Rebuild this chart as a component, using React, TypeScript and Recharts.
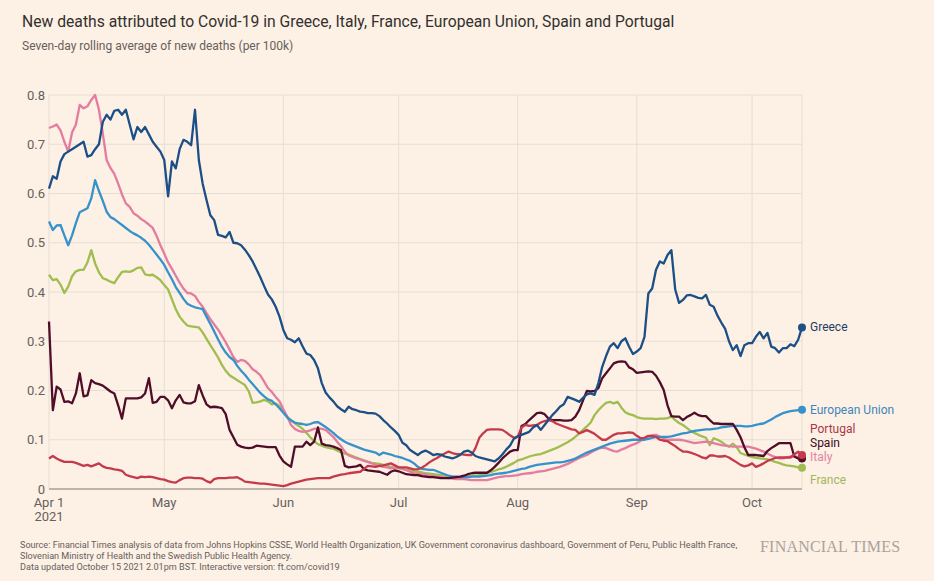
import { LineChart, Line, XAxis, YAxis, CartesianGrid } from "recharts";

// Seven-day rolling average of new deaths per 100k, one value per day from 1 Apr 2021 to 14 Oct 2021
const greece = [
  // Apr
  0.61, 0.635, 0.63, 0.665, 0.68, 0.685, 0.69, 0.695, 0.7, 0.705,
  0.675, 0.678, 0.69, 0.7, 0.745, 0.76, 0.75, 0.768, 0.77, 0.76,
  0.77, 0.74, 0.71, 0.735, 0.725, 0.735, 0.72, 0.705, 0.695, 0.685,
  // May
  0.668, 0.594, 0.665, 0.651, 0.69, 0.709, 0.705, 0.698, 0.77, 0.668,
  0.62, 0.587, 0.556, 0.546, 0.516, 0.514, 0.511, 0.522, 0.5, 0.499,
  0.495, 0.486, 0.475, 0.462, 0.446, 0.43, 0.412, 0.395, 0.385, 0.37,
  0.35,
  // Jun
  0.323, 0.306, 0.303, 0.298, 0.306, 0.29, 0.275, 0.272, 0.262, 0.245,
  0.215, 0.196, 0.186, 0.178, 0.168, 0.162, 0.157, 0.167, 0.162, 0.16,
  0.157, 0.156, 0.154, 0.154, 0.153, 0.148, 0.14, 0.133, 0.125, 0.118,
  // Jul
  0.11, 0.094, 0.089, 0.079, 0.074, 0.069, 0.075, 0.078, 0.074, 0.069,
  0.071, 0.07, 0.066, 0.064, 0.062, 0.065, 0.069, 0.076, 0.078, 0.074,
  0.067, 0.064, 0.062, 0.06, 0.058, 0.056, 0.062, 0.07, 0.08, 0.088,
  0.102,
  // Aug
  0.107, 0.11, 0.113, 0.116, 0.125, 0.13, 0.12, 0.13, 0.14, 0.15,
  0.158, 0.167, 0.172, 0.187, 0.184, 0.181, 0.177, 0.185, 0.192, 0.194,
  0.191, 0.215, 0.248, 0.27, 0.289, 0.296, 0.286, 0.3, 0.306, 0.289,
  0.274,
  // Sep
  0.279, 0.286, 0.309, 0.397, 0.407, 0.445, 0.462, 0.458, 0.475, 0.485,
  0.405, 0.378, 0.384, 0.393, 0.394, 0.391, 0.388, 0.387, 0.394, 0.374,
  0.37, 0.352, 0.338, 0.325, 0.3, 0.282, 0.292, 0.27, 0.292, 0.296,
  // Oct
  0.296, 0.309, 0.319, 0.306, 0.317, 0.289, 0.286, 0.277, 0.286, 0.286,
  0.294, 0.29, 0.303, 0.328,
];

const italy = [
  0.733, 0.736, 0.74, 0.728, 0.705, 0.685, 0.724, 0.74, 0.78, 0.773,
  0.777, 0.79, 0.8, 0.77, 0.722, 0.668, 0.652, 0.64, 0.62, 0.598,
  0.58, 0.573, 0.56, 0.555, 0.548, 0.543, 0.537, 0.53, 0.514, 0.495,

  0.478, 0.46, 0.447, 0.433, 0.419, 0.407, 0.398, 0.397, 0.392, 0.38,
  0.37, 0.357, 0.345, 0.334, 0.324, 0.311, 0.298, 0.283, 0.268, 0.258,
  0.262, 0.26, 0.253, 0.243, 0.238, 0.231, 0.218, 0.205, 0.197, 0.187,
  0.178,

  0.162, 0.147, 0.13, 0.122, 0.118, 0.116, 0.117, 0.119, 0.122, 0.123,
  0.122, 0.12, 0.113, 0.106, 0.096, 0.087, 0.076, 0.068, 0.065, 0.062,
  0.06, 0.057, 0.055, 0.052, 0.049, 0.047, 0.045, 0.044, 0.042, 0.043,

  0.044, 0.041, 0.038, 0.035, 0.032, 0.03, 0.03, 0.029, 0.027, 0.026,
  0.025, 0.024, 0.023, 0.022, 0.021, 0.02, 0.02, 0.02, 0.019, 0.018,
  0.018, 0.018, 0.018, 0.018, 0.02, 0.022, 0.024, 0.025, 0.026, 0.026,
  0.027,

  0.028, 0.03, 0.031, 0.032, 0.033, 0.035, 0.036, 0.037, 0.039, 0.041,
  0.043, 0.045, 0.048, 0.051, 0.055, 0.059, 0.063, 0.066, 0.069, 0.074,
  0.078, 0.082, 0.084, 0.083, 0.08, 0.077, 0.076, 0.08, 0.083, 0.087,
  0.09,

  0.093, 0.098, 0.102, 0.106, 0.109, 0.11, 0.106, 0.102, 0.1, 0.1,
  0.1, 0.1, 0.099, 0.097, 0.095, 0.093, 0.094, 0.095, 0.096, 0.095,
  0.093, 0.091, 0.089, 0.088, 0.087, 0.086, 0.086, 0.086, 0.086, 0.086,

  0.084, 0.082, 0.079, 0.076, 0.072, 0.068, 0.065, 0.062, 0.062, 0.064,
  0.066, 0.066, 0.065, 0.065,
];

const europeanUnion = [
  0.543, 0.526, 0.535, 0.536, 0.515, 0.495, 0.515, 0.54, 0.562, 0.566,
  0.57, 0.59, 0.627, 0.605, 0.585, 0.563, 0.552, 0.548, 0.542, 0.536,
  0.53, 0.524, 0.519, 0.515, 0.51, 0.504, 0.496, 0.486, 0.476, 0.466,

  0.455, 0.44, 0.426, 0.41, 0.398, 0.386, 0.376, 0.372, 0.369, 0.367,
  0.365, 0.35, 0.335, 0.32, 0.304, 0.289, 0.277, 0.268, 0.262, 0.25,
  0.24, 0.232, 0.222, 0.213, 0.204, 0.195, 0.188, 0.182, 0.179, 0.172,
  0.164,

  0.155, 0.146, 0.139, 0.135, 0.133, 0.132, 0.13, 0.132, 0.135, 0.136,
  0.131, 0.126, 0.12, 0.114, 0.107, 0.101, 0.096, 0.092, 0.089, 0.086,
  0.083, 0.08, 0.078, 0.076, 0.074, 0.069, 0.074, 0.072, 0.07, 0.067,

  0.065, 0.063, 0.06, 0.057, 0.052, 0.045, 0.041, 0.04, 0.039, 0.039,
  0.036, 0.033, 0.03, 0.027, 0.025, 0.025, 0.024, 0.024, 0.024, 0.025,
  0.025, 0.025, 0.026, 0.027, 0.028, 0.03, 0.031, 0.032, 0.033, 0.035,
  0.037,

  0.039, 0.041, 0.042, 0.045, 0.047, 0.049, 0.05, 0.051, 0.052, 0.053,
  0.054, 0.054, 0.055, 0.057, 0.059, 0.062, 0.066, 0.07, 0.074, 0.077,
  0.08, 0.083, 0.086, 0.089, 0.092, 0.094, 0.096, 0.097, 0.098, 0.099,
  0.1,

  0.1, 0.1, 0.1, 0.102, 0.104, 0.106, 0.106, 0.106, 0.106, 0.107,
  0.109, 0.111, 0.113, 0.114, 0.116, 0.118, 0.119, 0.12, 0.121, 0.121,
  0.122, 0.123, 0.125, 0.126, 0.127, 0.128, 0.128, 0.128, 0.127, 0.127,

  0.128, 0.13, 0.132, 0.133, 0.137, 0.141, 0.146, 0.15, 0.154, 0.156,
  0.158, 0.159, 0.16, 0.161,
];

const france = [
  0.435, 0.424, 0.426, 0.415, 0.398, 0.411, 0.432, 0.442, 0.445, 0.445,
  0.46, 0.485, 0.458, 0.44, 0.428, 0.425, 0.421, 0.418, 0.43, 0.441,
  0.442, 0.441, 0.444, 0.449, 0.45, 0.436, 0.434, 0.435, 0.43, 0.424,

  0.414, 0.405, 0.385, 0.365, 0.35, 0.34, 0.332, 0.33, 0.329, 0.328,
  0.318, 0.305, 0.292, 0.28, 0.267, 0.252, 0.24, 0.231, 0.226, 0.221,
  0.216, 0.211, 0.198, 0.175, 0.176, 0.178, 0.181, 0.178, 0.172, 0.174,
  0.168,

  0.158, 0.145, 0.14, 0.133, 0.128, 0.122, 0.114, 0.105, 0.097, 0.091,
  0.088, 0.085, 0.083, 0.082, 0.078, 0.075, 0.072, 0.07, 0.067, 0.064,
  0.061, 0.058, 0.055, 0.053, 0.052, 0.051, 0.049, 0.047, 0.045, 0.043,

  0.042, 0.041, 0.039, 0.038, 0.036, 0.035, 0.034, 0.032, 0.031, 0.03,
  0.029, 0.028, 0.027, 0.026, 0.025, 0.024, 0.024, 0.025, 0.026, 0.026,
  0.027, 0.028, 0.03, 0.032, 0.034, 0.037, 0.04, 0.042, 0.045, 0.049,
  0.053,

  0.058, 0.06, 0.063, 0.066, 0.068, 0.07, 0.071, 0.074, 0.077, 0.08,
  0.083, 0.087, 0.091, 0.095, 0.1, 0.106, 0.113, 0.12, 0.127, 0.135,
  0.15, 0.16, 0.168, 0.175, 0.177, 0.174, 0.177, 0.165, 0.156, 0.152,
  0.15,

  0.146, 0.144, 0.143, 0.143, 0.143, 0.142, 0.143, 0.143, 0.144, 0.147,
  0.14, 0.134, 0.13, 0.124, 0.118, 0.114, 0.11, 0.107, 0.104, 0.089,
  0.103, 0.1, 0.096, 0.09, 0.086, 0.092, 0.085, 0.073, 0.07, 0.067,

  0.065, 0.063, 0.062, 0.061, 0.06, 0.058, 0.055, 0.053, 0.05, 0.048,
  0.047, 0.046, 0.044, 0.043,
];

const spain = [
  0.34, 0.16, 0.208, 0.202, 0.177, 0.178, 0.174, 0.194, 0.235, 0.188,
  0.19, 0.221, 0.215, 0.213, 0.21, 0.204, 0.198, 0.194, 0.17, 0.143,
  0.184, 0.184, 0.184, 0.184, 0.186, 0.194, 0.225, 0.175, 0.177, 0.187,

  0.187, 0.18, 0.164, 0.18, 0.191, 0.176, 0.174, 0.174, 0.178, 0.211,
  0.19, 0.172, 0.166, 0.167, 0.166, 0.164, 0.152, 0.12, 0.105, 0.09,
  0.086, 0.084, 0.083, 0.084, 0.088, 0.087, 0.086, 0.085, 0.085, 0.085,
  0.068,

  0.056, 0.05, 0.045, 0.086, 0.086, 0.086, 0.096, 0.089, 0.096, 0.125,
  0.092, 0.089, 0.088, 0.086, 0.083, 0.079, 0.047, 0.044, 0.045, 0.046,
  0.049, 0.04, 0.038, 0.037, 0.036, 0.035, 0.032, 0.029, 0.035, 0.038,

  0.036, 0.033, 0.03, 0.029, 0.028, 0.028, 0.026, 0.025, 0.024, 0.024,
  0.023, 0.022, 0.022, 0.022, 0.023, 0.024, 0.025, 0.027, 0.03, 0.032,
  0.033, 0.033, 0.033, 0.033, 0.038, 0.045, 0.053, 0.062, 0.069, 0.076,
  0.079,

  0.079, 0.128, 0.132, 0.14, 0.147, 0.154, 0.155, 0.152, 0.143, 0.14,
  0.14, 0.14, 0.139, 0.139, 0.14, 0.147, 0.16, 0.18, 0.199, 0.198,
  0.199, 0.205, 0.225, 0.235, 0.245, 0.255, 0.258, 0.259, 0.258, 0.247,
  0.243,

  0.236, 0.237, 0.238, 0.239, 0.238, 0.23, 0.217, 0.201, 0.17, 0.148,
  0.147, 0.147, 0.14, 0.146, 0.15, 0.155, 0.15, 0.148, 0.148, 0.14,
  0.133, 0.133, 0.132, 0.132, 0.132, 0.132, 0.12, 0.105, 0.085, 0.069,

  0.069, 0.069, 0.068, 0.067, 0.077, 0.083, 0.088, 0.093, 0.093, 0.093,
  0.093, 0.066, 0.062, 0.062,
];

const portugal = [
  0.062, 0.067, 0.062, 0.058, 0.055, 0.055, 0.055, 0.053, 0.05, 0.047,
  0.049, 0.046, 0.049, 0.052, 0.046, 0.043, 0.042, 0.04, 0.039, 0.037,
  0.029, 0.026, 0.024, 0.022, 0.025, 0.024, 0.025, 0.024, 0.022, 0.02,

  0.019, 0.016, 0.014, 0.013, 0.018, 0.022, 0.023, 0.023, 0.022, 0.022,
  0.021, 0.016, 0.013, 0.02, 0.022, 0.022, 0.022, 0.023, 0.023, 0.024,
  0.02, 0.015, 0.014, 0.013, 0.012, 0.011, 0.011, 0.01, 0.009, 0.008,
  0.007,

  0.006, 0.008, 0.011, 0.013, 0.015, 0.017, 0.019, 0.02, 0.021, 0.022,
  0.022, 0.022, 0.022, 0.025, 0.027, 0.029, 0.03, 0.032, 0.033, 0.034,
  0.035, 0.041, 0.047, 0.046, 0.045, 0.047, 0.048, 0.05, 0.052, 0.048,

  0.044, 0.044, 0.044, 0.042, 0.04, 0.04, 0.043, 0.048, 0.054, 0.059,
  0.063, 0.068, 0.072, 0.076, 0.073, 0.071, 0.071, 0.07, 0.069, 0.069,
  0.083, 0.104, 0.113, 0.12, 0.121, 0.121, 0.121, 0.12, 0.115, 0.109,
  0.104,

  0.106, 0.125, 0.13, 0.128, 0.129, 0.13, 0.135, 0.138, 0.14, 0.138,
  0.133, 0.13, 0.127, 0.124, 0.121, 0.12, 0.113, 0.116, 0.12, 0.116,
  0.112, 0.106, 0.1, 0.1, 0.105, 0.11, 0.113, 0.113, 0.114, 0.115,
  0.114,

  0.108, 0.103, 0.104, 0.108, 0.108, 0.106, 0.1, 0.098, 0.097, 0.092,
  0.087, 0.081, 0.076, 0.076, 0.074, 0.071, 0.068, 0.064, 0.062, 0.068,
  0.068, 0.066, 0.066, 0.067, 0.064, 0.059, 0.054, 0.049, 0.046, 0.048,

  0.052, 0.045, 0.048, 0.052, 0.057, 0.06, 0.063, 0.064, 0.064, 0.064,
  0.064, 0.07, 0.076, 0.069,
];

// day offsets (from 1 Apr) of the first of each month
const monthTicks = [0, 30, 61, 91, 122, 153, 183];
const monthLabels = [["Apr 1", "2021"], ["May"], ["Jun"], ["Jul"], ["Aug"], ["Sep"], ["Oct"]];
const valueTicks = [0, 0.1, 0.2, 0.3, 0.4, 0.5, 0.6, 0.7, 0.8];

const BG = "#fdf0e5";
const FONT = "Roboto, 'Liberation Sans', Arial, sans-serif";
const MUTED = "#66605c";

type Series = {
  key: string;
  name: string;
  values: number[];
  color: string;
  labelColor: string;
  labelY: number;
};

// drawn bottom to top
const series: Series[] = [
  { key: "france", name: "France", values: france, color: "#a0bd4f", labelColor: "#a2b75b", labelY: 480 },
  { key: "italy", name: "Italy", values: italy, color: "#e37c9f", labelColor: "#de85a4", labelY: 457 },
  { key: "eu", name: "European Union", values: europeanUnion, color: "#3692cb", labelColor: "#3d86bc", labelY: 410 },
  { key: "spain", name: "Spain", values: spain, color: "#500d29", labelColor: "#3a0b1d", labelY: 443 },
  { key: "portugal", name: "Portugal", values: portugal, color: "#c53a4b", labelColor: "#a8384a", labelY: 429 },
  { key: "greece", name: "Greece", values: greece, color: "#1c4f86", labelColor: "#233f63", labelY: 327 },
];

const data = greece.map((_, i) => {
  const row: Record<string, number> = { day: i };
  series.forEach((s) => {
    row[s.key] = s.values[i];
  });
  return row;
});

const lastIndex = data.length - 1;

const endDot = (color: string) => (props: any) => {
  const { cx, cy, index } = props;
  if (index !== lastIndex) return <g key={`d-${index}`} />;
  return <circle key={`d-${index}`} cx={cx} cy={cy} r={4} fill={color} stroke="none" />;
};

function MonthTick(props: any) {
  const { x, y, payload } = props;
  const lines = monthLabels[monthTicks.indexOf(payload.value)] ?? [];
  return (
    <text x={x} y={y} textAnchor="middle" fill={MUTED} fontSize={13} fontFamily={FONT}>
      {lines.map((line, i) => (
        <tspan key={line} x={x} dy={i === 0 ? 18 : 14}>
          {line}
        </tspan>
      ))}
    </text>
  );
}

export default function App() {
  return (
    <div
      style={{
        position: "absolute",
        left: 0,
        top: 0,
        width: 934,
        height: 581,
        background: BG,
        fontFamily: FONT,
        overflow: "hidden",
      }}
    >
      <LineChart
        width={934}
        height={581}
        data={data}
        margin={{ top: 95, right: 132, bottom: 62, left: 0 }}
      >
        <CartesianGrid stroke="#e8ddd2" strokeWidth={1} />
        <XAxis
          dataKey="day"
          type="number"
          domain={[0, lastIndex]}
          ticks={monthTicks}
          interval={0}
          height={30}
          tickLine={false}
          tickSize={0}
          tickMargin={0}
          axisLine={{ stroke: "#bdb3aa", strokeWidth: 2 }}
          tick={<MonthTick />}
        />
        <YAxis
          type="number"
          domain={[0, 0.8]}
          ticks={valueTicks}
          width={49}
          axisLine={false}
          tickLine={false}
          tickSize={0}
          tickMargin={4}
          tick={{ fill: MUTED, fontSize: 13, fontFamily: FONT }}
        />
        {series.map((s) => (
          <Line
            key={s.key}
            dataKey={s.key}
            type="linear"
            stroke={s.color}
            strokeWidth={2.3}
            strokeLinejoin="round"
            dot={endDot(s.color)}
            activeDot={false}
            isAnimationActive={false}
          />
        ))}
      </LineChart>

      <div style={{ position: "absolute", left: 22, top: 12, fontSize: 15.7, lineHeight: "20px", color: "#33302e" }}>
        New deaths attributed to Covid-19 in Greece, Italy, France, European Union, Spain and Portugal
      </div>
      <div style={{ position: "absolute", left: 22, top: 38, fontSize: 12, lineHeight: "16px", color: MUTED }}>
        Seven-day rolling average of new deaths (per 100k)
      </div>

      {series.map((s) => (
        <div
          key={s.key}
          style={{
            position: "absolute",
            left: 810,
            top: s.labelY - 8,
            fontSize: 12,
            lineHeight: "16px",
            color: s.labelColor,
            whiteSpace: "nowrap",
          }}
        >
          {s.name}
        </div>
      ))}

      <div
        style={{
          position: "absolute",
          left: 20,
          top: 540,
          fontSize: 9.1,
          lineHeight: "11px",
          color: MUTED,
          whiteSpace: "nowrap",
        }}
      >
        Source: Financial Times analysis of data from Johns Hopkins CSSE, World Health Organization, UK Government
        coronavirus dashboard, Government of Peru, Public Health France,
        <br />
        Slovenian Ministry of Health and the Swedish Public Health Agency.
        <br />
        Data updated October 15 2021 2.01pm BST. Interactive version: ft.com/covid19
      </div>
      <div
        style={{
          position: "absolute",
          left: 760,
          top: 537,
          fontSize: 16,
          lineHeight: "20px",
          color: "#aaa29b",
          fontFamily: "'Liberation Serif', 'DejaVu Serif', serif",
          letterSpacing: 0.2,
        }}
      >
        FINANCIAL TIMES
      </div>
    </div>
  );
}
